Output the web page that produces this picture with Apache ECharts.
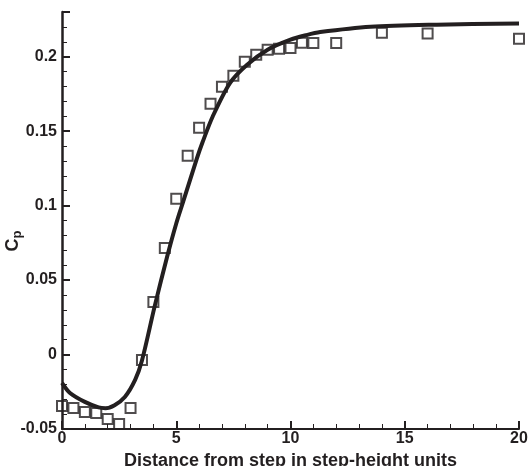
<!DOCTYPE html>
<html>
<head>
<meta charset="utf-8">
<script src="https://cdn.jsdelivr.net/npm/echarts@6/dist/echarts.min.js"></script>
<style>
    html, body { margin: 0; padding: 0; background: #fff; }
    #chart { width: 529px; height: 466px; }
</style>
</head>
<body>
<div id="chart"></div>
<script>
// measured points (squares)
const expX = [0, 0.5, 1.0, 1.5, 2.0, 2.5, 3.0, 3.5, 4.0, 4.5, 5.0, 5.5, 6.0, 6.5, 7.0, 7.5, 8.0, 8.5, 9.0, 9.5, 10.0, 10.5, 11.0, 12.0, 14.0, 16.0, 20.0];
const expCp = [-0.0345, -0.0359, -0.0386, -0.0392, -0.0433, -0.0466, -0.0359, -0.0036, 0.0353, 0.0716, 0.1046, 0.1335, 0.1523, 0.1684, 0.1798, 0.1872, 0.1966, 0.2013, 0.2047, 0.2054, 0.2058, 0.2094, 0.2092, 0.2092, 0.2161, 0.2155, 0.2121];

// computed curve
const calcX = [0, 0.35, 1.0, 1.6, 1.9, 2.3, 2.75, 3.2, 3.5, 4.05, 4.6, 5.0, 5.3, 5.9, 6.15, 6.6, 7.35, 8.1, 9.0, 10.0, 10.7, 11.3, 13.5, 16.4, 20];
const calcCp = [-0.019, -0.0258, -0.0318, -0.0355, -0.036, -0.034, -0.0285, -0.017, -0.004, 0.032, 0.0656, 0.088, 0.1025, 0.1315, 0.1425, 0.160, 0.1823, 0.1946, 0.2047, 0.2114, 0.2145, 0.2165, 0.2201, 0.2215, 0.2222];

const xTicks = [0, 5, 10, 15, 20];

let chart = echarts.init(document.getElementById('chart'));
const ink = '#231f20';
const font = 'Liberation Sans, Arial, sans-serif';

const option = {
    animation: false,
    grid: {
        left: 62,
        right: 10,
        top: 12,
        bottom: 37,
        outerBoundsMode: 'none',
        containLabel: false
    },
    graphic: [
        {
            type: 'text',
            x: 13,
            y: 241,
            rotation: Math.PI / 2,
            style: {
                text: '{c|C}{p|p}',
                align: 'center',
                verticalAlign: 'middle',
                rich: {
                    c: {fontSize: 18, fontWeight: 'bold', fontFamily: font, fill: ink},
                    p: {fontSize: 13, fontWeight: 'bold', fontFamily: font, fill: ink, padding: [9, 0, 0, 0]}
                }
            }
        }
    ],
    xAxis: {
        type: 'value',
        min: xTicks[0],
        max: xTicks[xTicks.length - 1],
        interval: 5,
        name: 'Distance from step in step-height units',
        nameLocation: 'middle',
        nameGap: 18,
        nameTextStyle: {color: ink, fontSize: 18, fontWeight: 'bold', fontFamily: font},
        axisLine: {onZero: false, lineStyle: {color: ink, width: 2}},
        axisTick: {inside: true, length: 8, lineStyle: {color: ink, width: 2}},
        minorTick: {show: true, splitNumber: 5, length: 5, lineStyle: {color: ink, width: 1}},
        axisLabel: {color: ink, fontSize: 16, fontWeight: 'bold', fontFamily: font, margin: 2},
        splitLine: {show: false}
    },
    yAxis: {
        type: 'value',
        min: -0.05,
        max: 0.23,
        interval: 0.05,
        axisLine: {onZero: false, lineStyle: {color: ink, width: 2.5}},
        axisTick: {inside: true, length: 8, lineStyle: {color: ink, width: 2}},
        minorTick: {show: true, splitNumber: 5, length: 5, lineStyle: {color: ink, width: 1}},
        axisLabel: {color: ink, fontSize: 16, fontWeight: 'bold', fontFamily: font, margin: 5, showMaxLabel: false},
        splitLine: {show: false}
    },
    series: [
        {
            name: 'experiment',
            type: 'scatter',
            symbol: 'rect',
            symbolSize: 10,
            itemStyle: {color: 'rgba(255,255,255,0)', borderColor: ink, borderWidth: 2},
            data: expX.map((x, i) => [x, expCp[i]]),
            z: 2
        },
        {
            name: 'computation',
            type: 'line',
            smooth: 0.3,
            showSymbol: false,
            lineStyle: {color: ink, width: 4},
            data: calcX.map((x, i) => [x, calcCp[i]]),
            z: 3
        }
    ]
};

chart.setOption(option);

window.addEventListener('resize', function () {
    chart.resize();
});
</script>
</body>
</html>
